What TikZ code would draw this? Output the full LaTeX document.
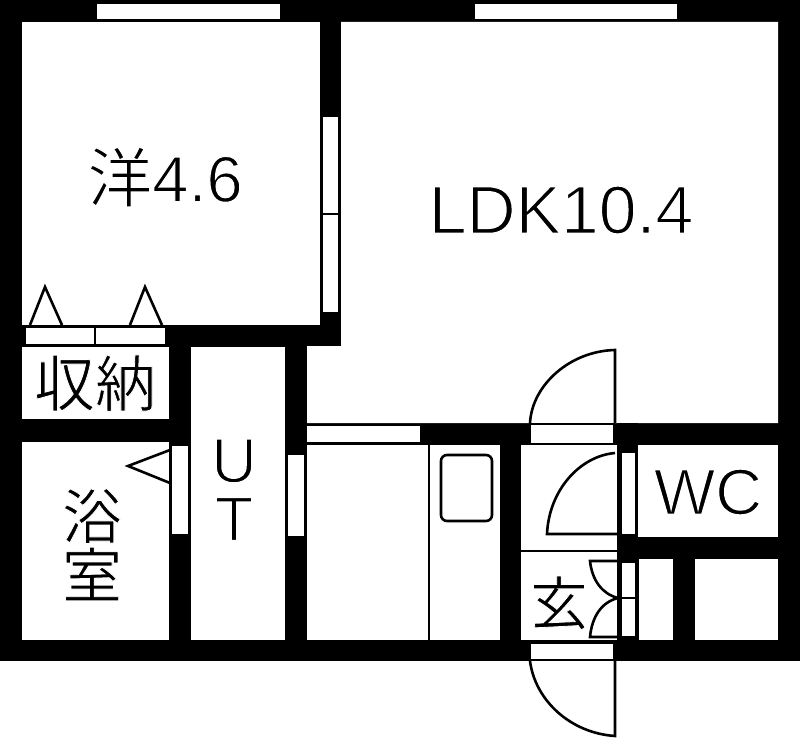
\documentclass[tikz,border=0pt]{standalone}
\usepackage{fontspec}
\setmainfont{Liberation Sans}
\newfontfamily\cjk{Noto Sans CJK JP}
\newcommand{\slim}[2]{\special{pdf:code q 2 Tr 1 1 1 RG #1 w}#2\special{pdf:code Q}}
\tikzset{
  room/.style={fill=white,draw=none},
  fitting/.style={fill=white,draw=black,line width=2.4pt},
  thinline/.style={draw=black,line width=2.6pt},
  label/.style={inner sep=0pt,text=black},
}
\begin{document}
\begin{tikzpicture}[x=1pt,y=-1pt]
\useasboundingbox (0,0) rectangle (800,738);
\fill[white] (0,0) rectangle (800,738);
% outer mass of walls
\fill[black] (0,0) rectangle (800,661);
% rooms
\fill[room] (22,22) rectangle (320,325);
\fill[room] (341,22) -- (778,22) -- (778,423) -- (307,423) -- (307,346) -- (341,346) -- cycle;
\fill[room] (22,347) rectangle (169,419);
\fill[room] (191,347) rectangle (285,640);
\fill[room] (22,442) rectangle (169,640);
\fill[room] (307,445) rectangle (500,640);
\fill[room] (521,445) rectangle (617,640);
\fill[room] (638,445) rectangle (778,537);
\fill[room] (639,559) rectangle (673,640);
\fill[room] (695,559) rectangle (778,640);
% windows
\fill[room] (97,4) rectangle (280,19);
\fill[room] (475,4) rectangle (677,19);
\draw[fitting] (322,116) rectangle (339,313);
\draw[thinline] (322,214) -- (339,214);
% closet doors
\draw[fitting] (25,327) rectangle (166,345);
\draw[thinline] (95,327) -- (95,345);
% interior doors
\fill[room] (172,446) rectangle (188,534);
\fill[room] (288,455) rectangle (304,536);
\draw[fitting] (306,425) rectangle (421,443);
\draw[fitting] (530,424) rectangle (614,444);
\draw[fitting] (530,643) rectangle (614,660);
% door swings
\draw[thinline] (530,423) .. controls (532,385) and (570,351) .. (615,350) -- (615,423);
\draw[thinline] (530,661) .. controls (535,700) and (570,733) .. (615,736) -- (615,661);
\draw[thinline] (615,453) .. controls (580,456) and (549,490) .. (547,534) -- (618,534);
% WC door and wall line
\fill[black] (617,423) rectangle (638,453);
\fill[room] (622,453) rectangle (635,534);
\draw[line width=4pt] (619,453) -- (619,537);
\draw[thinline] (637,453) -- (637,537);
% entrance
\draw[thinline] (521,551) -- (617,551);
\fill[black] (617,537) rectangle (638,562);
\fill[black] (617,637) rectangle (638,661);
\fill[room] (622,563) rectangle (635,636);
\draw[line width=3.5pt] (619,562) -- (619,637);
\draw[thinline] (637,562) -- (637,637);
\draw[thinline] (620,598) -- (637,598);
\draw[thinline] (618,561) -- (590,561) .. controls (592,580) and (602,594) .. (618,598);
\draw[thinline] (618,637) -- (590,637) .. controls (592,616) and (602,602) .. (618,598);
% kitchen
\draw[thinline] (429,445) -- (429,640);
\draw[thinline,rounded corners=6pt] (441,455) rectangle (492,521);
% triangles
\draw[thinline] (30,325) -- (45,287) -- (62,325);
\draw[thinline] (130,325) -- (145,287) -- (162,325);
\draw[thinline] (170,450) -- (128,466) -- (170,483);
% labels
\node[label] (yo) at (165,177) {\fontsize{65}{65}\selectfont\slim{1.2}{{\cjk 洋}4.6}};
\node[label] (ldk) at (561,210) {\fontsize{68}{68}\selectfont\slim{1.4}{LDK10.4}};
\node[label] (shuno) at (95,383) {\cjk\fontsize{61}{61}\selectfont\slim{0.8}{収納}};
\node[label] (u) at (234,461) {\fontsize{63}{63}\selectfont\slim{1.4}{U}};
\node[label] (t) at (234,519) {\fontsize{63}{63}\selectfont\slim{1.4}{T}};
\node[label] (yoku) at (92,516) {\cjk\fontsize{60}{60}\selectfont\slim{0.8}{浴}};
\node[label] (shitsu) at (92,574) {\cjk\fontsize{60}{60}\selectfont\slim{0.8}{室}};
\node[label] (gen) at (559,603) {\cjk\fontsize{58}{58}\selectfont\slim{0.8}{玄}};
\node[label] (wc) at (708,492) {\fontsize{65}{65}\selectfont\slim{1.4}{WC}};
\end{tikzpicture}
\end{document}
